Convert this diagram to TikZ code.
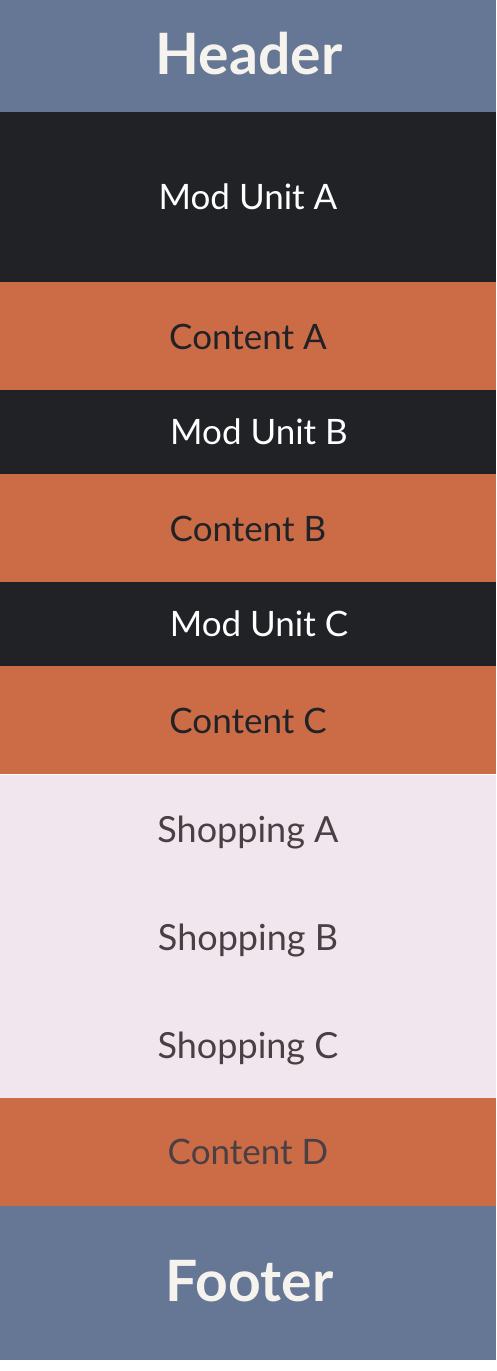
\documentclass[tikz,border=0pt]{standalone}
\usepackage{fontspec}
\setmainfont{Lato}
\definecolor{slate}{HTML}{657795}
\definecolor{ink}{HTML}{212226}
\definecolor{rust}{HTML}{CB6C47}
\definecolor{blush}{HTML}{F2E6EE}
\definecolor{cream}{HTML}{F6F3EE}
\definecolor{taupe}{HTML}{4A4043}
\begin{document}
\begin{tikzpicture}[x=1pt, y=-1pt,
    band/.style={inner sep=0pt, outer sep=0pt, minimum width=496pt, anchor=north west},
    lbl/.style={anchor=base, inner sep=0pt, font=\fontsize{35}{40}\selectfont},
    big/.style={anchor=base, inner sep=0pt, text=cream, font=\fontsize{57}{62}\selectfont\bfseries}]
    \useasboundingbox[fill=white] (0,0) rectangle (496,1371);
    % bands
    \node[band, fill=slate, minimum height=112pt] (header) at (0,0) {};
    \node[band, fill=ink, minimum height=170pt] (modA) at (0,112) {};
    \node[band, fill=rust, minimum height=108pt] (contA) at (0,282) {};
    \node[band, fill=ink, minimum height=84pt] (modB) at (0,390) {};
    \node[band, fill=rust, minimum height=108pt] (contB) at (0,474) {};
    \node[band, fill=ink, minimum height=84pt] (modC) at (0,582) {};
    \node[band, fill=rust, minimum height=108pt] (contC) at (0,666) {};
    \node[band, fill=blush, minimum height=323pt] (shop) at (0,775) {};
    \node[band, fill=rust, minimum height=108pt] (contD) at (0,1098) {};
    \node[band, fill=slate, minimum height=154pt] (footer) at (0,1206) {};
    % labels
    \node[big] (headerlbl) at (249,74) {Header};
    \node[lbl, text=white] (modAlbl) at (248,209) {Mod Unit A};
    \node[lbl, text=ink] (contAlbl) at (248,349) {Content A};
    \node[lbl, text=white] (modBlbl) at (259,444) {Mod Unit B};
    \node[lbl, text=ink] (contBlbl) at (248,541) {Content B};
    \node[lbl, text=white] (modClbl) at (259,636) {Mod Unit C};
    \node[lbl, text=ink] (contClbl) at (248,733) {Content C};
    \node[lbl, text=taupe, font=\fontsize{36}{40}\selectfont] (shopAlbl) at (248,842) {Shopping A};
    \node[lbl, text=taupe, font=\fontsize{36}{40}\selectfont] (shopBlbl) at (248,950) {Shopping B};
    \node[lbl, text=taupe, font=\fontsize{36}{40}\selectfont] (shopClbl) at (248,1058) {Shopping C};
    \node[lbl, text=taupe] (contDlbl) at (248,1164) {Content D};
    \node[big] (footerlbl) at (249.5,1301) {Footer};
\end{tikzpicture}
\end{document}
